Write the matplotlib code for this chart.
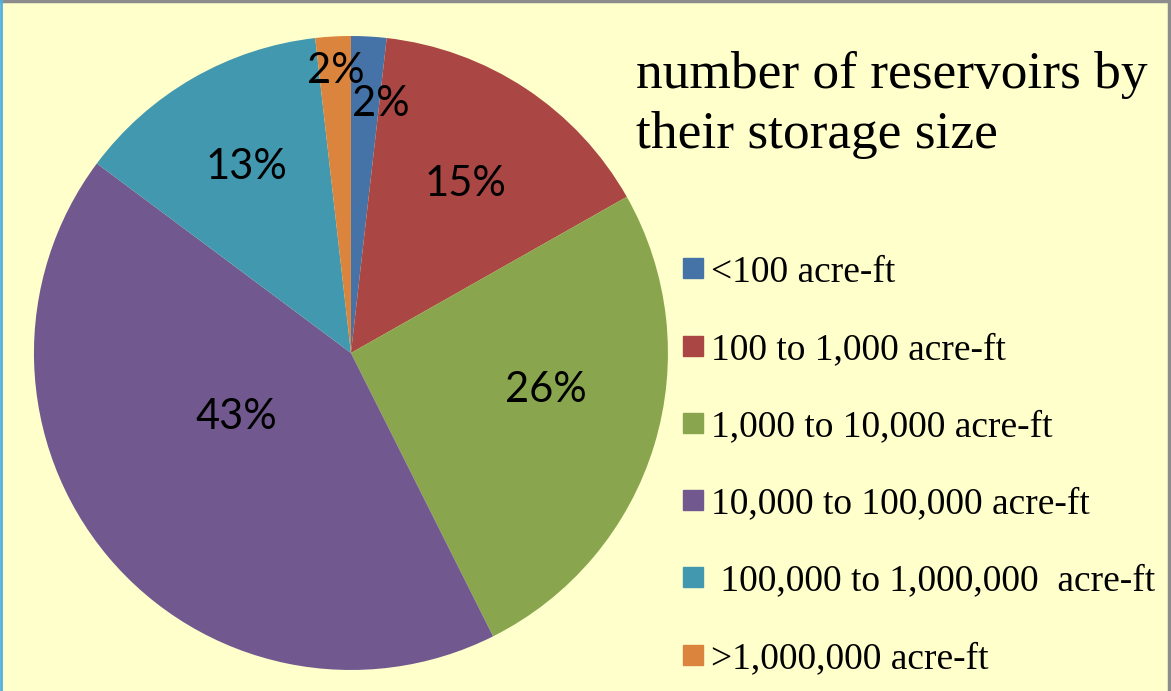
import numpy as np
import matplotlib.pyplot as plt
from matplotlib.lines import Line2D

# data (percent of reservoirs)
categories = ['<100 acre-ft', '100 to 1,000 acre-ft', '1,000 to 10,000 acre-ft',
              '10,000 to 100,000 acre-ft', ' 100,000 to 1,000,000  acre-ft',
              '>1,000,000 acre-ft']
shares = [1.8, 15.0, 25.8, 42.6, 13.0, 1.8]
colors = ['#4572A7', '#AA4643', '#89A54E', '#71588F', '#4198AF', '#DB843D']
# where each percent label sits: fraction of radius, and angle shift (deg, counter-clockwise)
label_dist = [0.80, 0.65, 0.625, 0.41, 0.68, 0.90]
label_shift = [-3.6, -0.4, 6.8, -11.5, -1.0, -0.1]

bg = '#FFFFCC'
fig = plt.figure(figsize=(11.71, 6.91), dpi=100, facecolor=bg)
ax = fig.add_axes([0.029, 0.0304, 0.5414, 0.9175])
ax.set_facecolor(bg)

wedges, texts, autotexts = ax.pie(shares, colors=colors, startangle=90, counterclock=False,
                                  autopct='%.0f%%', pctdistance=0.6,
                                  wedgeprops=dict(linewidth=0),
                                  textprops=dict(fontsize=30, family='Lato', color='black'))
ax.set_xlim(-1, 1)
ax.set_ylim(-1, 1)
ax.set_aspect('equal')

for w, t, d, s in zip(wedges, autotexts, label_dist, label_shift):
    ang = np.deg2rad((w.theta1 + w.theta2) / 2 + s)
    t.set_position((d * np.cos(ang), d * np.sin(ang) - 0.008))

# title
fig.text(636 / 1171, 1 - 88 / 691, 'number of reservoirs by', fontsize=38.4,
         family='Liberation Serif', va='baseline', ha='left')
fig.text(636 / 1171, 1 - 148 / 691, 'their storage size', fontsize=38.4,
         family='Liberation Serif', va='baseline', ha='left')

# legend
handles = [Line2D([], [], marker='s', linestyle='none', markersize=13.7,
                  markerfacecolor=c, markeredgecolor=c) for c in colors]
fig.legend(handles, categories, loc='upper left', bbox_to_anchor=(683 / 1171, 1 - 255 / 691),
           frameon=False, prop=dict(family='Liberation Serif', size=27),
           labelspacing=1.14, handletextpad=0.2, handlelength=0.55, borderpad=0,
           borderaxespad=0)

# border lines
fig.add_artist(Line2D([0, 1], [0.998, 0.998], color='#8C8C8C', lw=2.5, transform=fig.transFigure))
fig.add_artist(Line2D([0.998, 0.998], [0, 1], color='#8C8C8C', lw=2.5, transform=fig.transFigure))
fig.add_artist(Line2D([0.001, 0.001], [0, 1], color='#4FB0E0', lw=2, transform=fig.transFigure))

fig.savefig('out.png', dpi=100, facecolor=bg)
